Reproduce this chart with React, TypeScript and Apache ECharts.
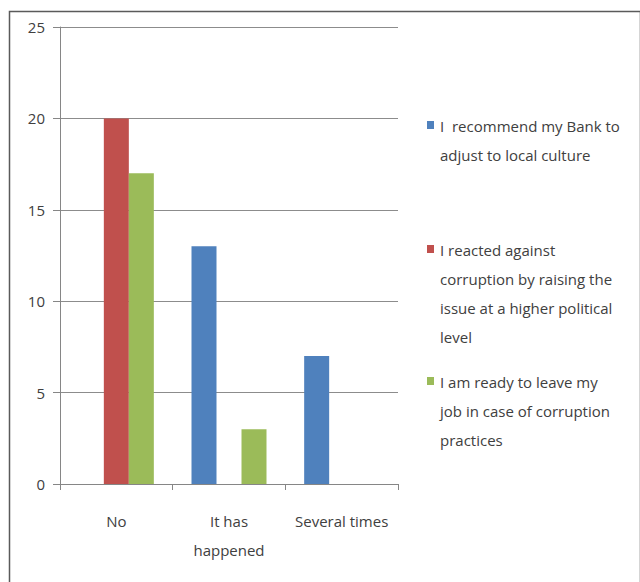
import React, { useEffect, useRef } from "react";
import * as echarts from "echarts";

const categories = ["No", "It has\nhappened", "Several times"];
const seriesNames = [
  "I  recommend my Bank to adjust to local culture",
  "I reacted against corruption by raising the issue at a higher political level",
  "I am ready to leave my job in case of corruption practices",
];
const legendLines = [
  ["I  recommend my Bank to", "adjust to local culture"],
  ["I reacted against", "corruption by raising the", "issue at a higher political", "level"],
  ["I am ready to leave my", "job in case of corruption", "practices"],
];
const recommendValues = [0, 13, 7];
const reactedValues = [20, 0, 0];
const leaveValues = [17, 3, 0];
const colors = ["#4F81BD", "#C0504D", "#9BBB59"];

const FONT = "'Open Sans', sans-serif";
const TEXT = "#404040";

export default function App() {
  const ref = useRef<HTMLDivElement>(null);

  useEffect(() => {
    if (!ref.current) return;
    const chart = echarts.init(ref.current, undefined, { renderer: "svg" });
    const values = [recommendValues, reactedValues, leaveValues];
    const legendTops = [115, 239, 371];

    const legendGraphics: any[] = [];
    legendLines.forEach((lines, i) => {
      legendGraphics.push({
        type: "rect",
        left: 427,
        top: legendTops[i] + 6,
        shape: { width: 7, height: 8 },
        style: { fill: colors[i] },
      });
      legendGraphics.push({
        type: "text",
        left: 440,
        top: legendTops[i] - 4,
        style: {
          text: lines.join("\n"),
          font: `15px ${FONT}`,
          lineHeight: 29,
          fill: TEXT,
        },
      });
    });

    chart.setOption({
      animation: false,
      backgroundColor: "#ffffff",
      grid: { left: 60, right: 242, top: 27, bottom: 98 },
      xAxis: {
        type: "category",
        data: categories,
        axisLine: { lineStyle: { color: "#868686" } },
        axisTick: { show: true, length: 6, lineStyle: { color: "#868686" } },
        axisLabel: {
          margin: 22,
          fontSize: 15,
          lineHeight: 29,
          fontFamily: FONT,
          color: TEXT,
          interval: 0,
        },
      },
      yAxis: {
        type: "value",
        min: 0,
        max: 25,
        interval: 5,
        axisLine: { show: true, lineStyle: { color: "#868686" } },
        axisTick: { show: true, length: 7, lineStyle: { color: "#868686" } },
        splitLine: { lineStyle: { color: "#8c8c8c" } },
        axisLabel: {
          margin: 15,
          fontSize: 15,
          fontFamily: FONT,
          color: TEXT,
        },
      },
      series: seriesNames.map((name, i) => ({
        name,
        type: "bar",
        data: values[i],
        barWidth: 25,
        barGap: "0%",
        itemStyle: { color: colors[i] },
      })),
      graphic: [
        {
          type: "rect",
          left: 7,
          top: 9,
          shape: { width: 631, height: 600 },
          style: { fill: "none", stroke: "#5a5a5a", lineWidth: 1.5 },
          z: 10,
        },
        ...legendGraphics,
      ],
    });
    return () => chart.dispose();
  }, []);

  return (
    <div
      ref={ref}
      style={{ position: "fixed", left: 0, top: 0, width: 640, height: 582, background: "#fff" }}
    />
  );
}
